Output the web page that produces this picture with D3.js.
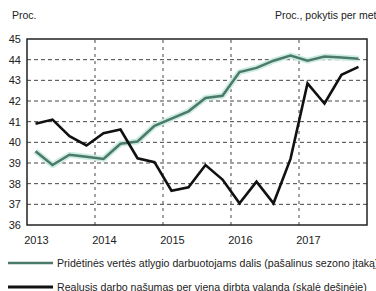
<!DOCTYPE html>
<html>
<head>
<meta charset="utf-8">
<script src="https://cdn.jsdelivr.net/npm/d3@7"></script>
<style>
  body { margin: 0; background: #fff; }
  text { font-family: "Liberation Sans", Arial, sans-serif; fill: #222; }
</style>
</head>
<body>
<div id="chart"></div>
<script>
// quarterly data 2013Q1 - 2017Q4
var years = [2013, 2014, 2015, 2016, 2017];
var yTicks = [36, 37, 38, 39, 40, 41, 42, 43, 44, 45];
var laborShare = [39.57, 38.9, 39.4, 39.3, 39.2, 39.93, 40.04, 40.8, 41.15, 41.5,
  42.15, 42.25, 43.4, 43.6, 43.95, 44.2, 43.95, 44.15, 44.1, 44.05];
var productivity = [40.9, 41.1, 40.3, 39.85, 40.44, 40.62, 39.23, 39.04, 37.66, 37.82,
  38.9, 38.2, 37.05, 38.1, 37.05, 39.2, 42.85, 41.88, 43.27, 43.65];
var legendLabels = [
  "Pridėtinės vertės atlygio darbuotojams dalis (pašalinus sezono įtaką)",
  "Realusis darbo našumas per vieną dirbtą valandą (skalė dešinėje)"
];

var width = 376, height = 291,
  margin = {top: 39, left: 27, bottom: 67, right: 9};

var svg = d3.select('#chart').append('svg')
  .attr('width', width)
  .attr('height', height);

var x = d3.scaleLinear()
  .domain([-0.5, laborShare.length - 0.5])
  .range([margin.left, width - margin.right]);

var y = d3.scaleLinear()
  .domain([36, 45])
  .range([height - margin.bottom + 1, margin.top]);

// grid
var grid = svg.append('g')
  .attr('stroke', '#444')
  .attr('stroke-width', 1)
  .attr('stroke-dasharray', '4,3');

grid.selectAll('line.h')
  .data(yTicks.filter(function(d) { return d > 36 && d < 45; }))
  .enter().append('line')
  .attr('x1', x.range()[0]).attr('x2', x.range()[1])
  .attr('y1', function(d) { return y(d); })
  .attr('y2', function(d) { return y(d); });

grid.selectAll('line.v')
  .data(years.slice(1))
  .enter().append('line')
  .attr('stroke-dasharray', '3,4')
  .attr('y1', y.range()[0]).attr('y2', y.range()[1])
  .attr('x1', function(d, i) { return x((i + 1) * 4 - 0.5); })
  .attr('x2', function(d, i) { return x((i + 1) * 4 - 0.5); });

// lines
var line = d3.line()
  .x(function(d, i) { return x(i); })
  .y(function(d) { return y(d); });

svg.append('path')
  .datum(laborShare)
  .attr('d', line)
  .attr('fill', 'none')
  .attr('stroke', '#cdece2')
  .attr('stroke-width', 6)
  .attr('stroke-linejoin', 'round');

svg.append('path')
  .datum(laborShare)
  .attr('d', line)
  .attr('fill', 'none')
  .attr('stroke', '#4c7a68')
  .attr('stroke-width', 2.5);

svg.append('path')
  .datum(productivity)
  .attr('d', line)
  .attr('fill', 'none')
  .attr('stroke', '#111')
  .attr('stroke-width', 2.6);

// frame
svg.append('rect')
  .attr('x', x.range()[0])
  .attr('y', y.range()[1])
  .attr('width', x.range()[1] - x.range()[0])
  .attr('height', y.range()[0] - y.range()[1])
  .attr('fill', 'none')
  .attr('stroke', '#222')
  .attr('stroke-width', 1.5);

// axis labels
svg.append('g').selectAll('text')
  .data(yTicks)
  .enter().append('text')
  .attr('x', 21)
  .attr('y', function(d) { return y(d); })
  .attr('dy', '0.35em')
  .attr('text-anchor', 'end')
  .attr('font-size', 11)
  .text(function(d) { return d; });

svg.append('g').selectAll('text')
  .data(years)
  .enter().append('text')
  .attr('x', function(d, i) { return x(i * 4) + 1; })
  .attr('y', 244)
  .attr('text-anchor', 'middle')
  .attr('font-size', 11)
  .text(function(d) { return d; });

svg.append('text')
  .attr('x', 12).attr('y', 19)
  .attr('font-size', 10.5)
  .text('Proc.');

svg.append('text')
  .attr('x', 275).attr('y', 19)
  .attr('font-size', 10.5)
  .text('Proc., pokytis per metus');

// legend
var legend = svg.append('g').selectAll('g')
  .data(legendLabels)
  .enter().append('g')
  .attr('transform', function(d, i) { return 'translate(0,' + (263 + i * 24) + ')'; });

legend.append('line')
  .attr('x1', 8).attr('x2', 53)
  .attr('stroke', function(d, i) { return i ? '#111' : '#4c7a68'; })
  .attr('stroke-width', function(d, i) { return i ? 3 : 2.5; });

legend.append('text')
  .attr('x', 57)
  .attr('dy', '0.35em')
  .attr('font-size', 10.6)
  .text(function(d) { return d; });
</script>
</body>
</html>
